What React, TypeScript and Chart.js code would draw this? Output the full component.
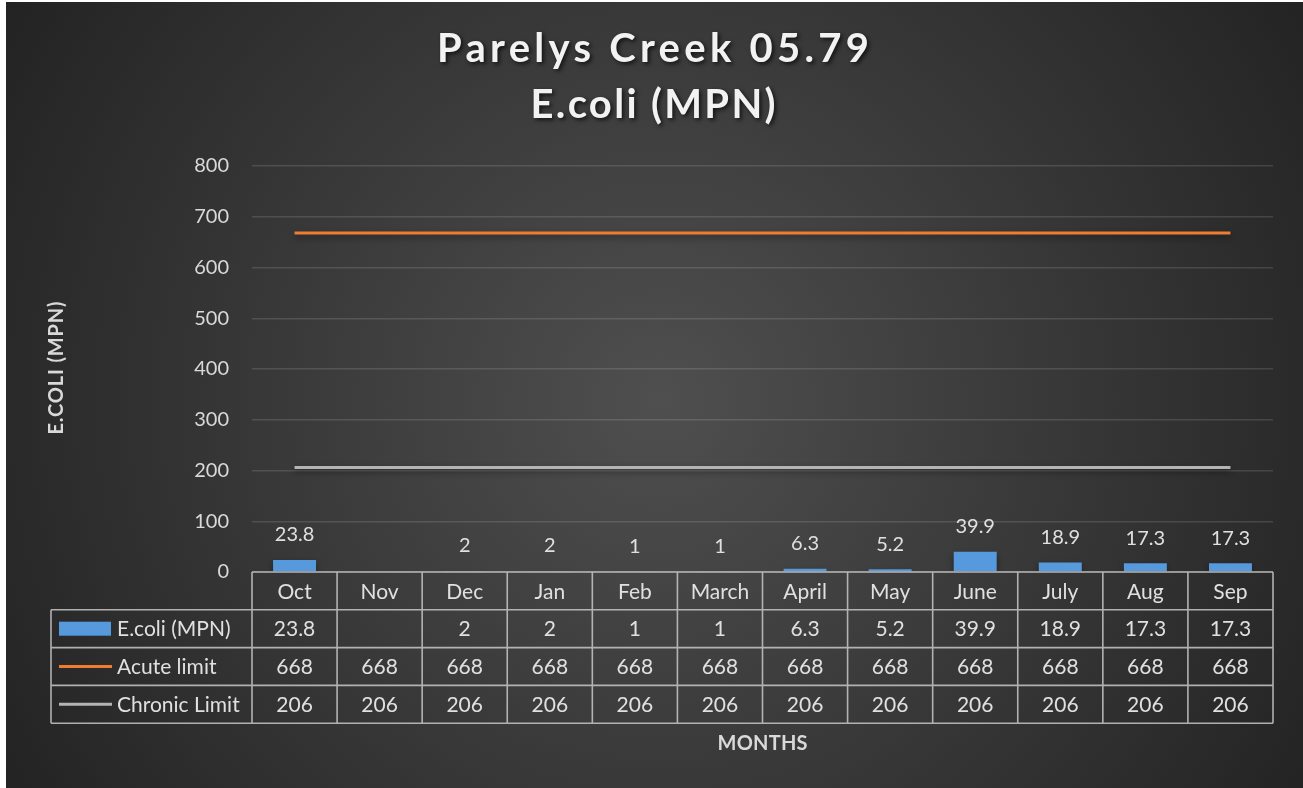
import React, { useEffect, useRef } from 'react';
import { Chart, registerables } from 'chart.js';

Chart.register(...registerables);

const W = 1303;
const H = 788;
const FONT = 'Lato, "Open Sans", sans-serif';

const titleLines = ['Parelys Creek 05.79', 'E.coli (MPN)'];
const months = ['Oct', 'Nov', 'Dec', 'Jan', 'Feb', 'March', 'April', 'May', 'June', 'July', 'Aug', 'Sep'];
const ecoliValues: (number | null)[] = [23.8, null, 2, 2, 1, 1, 6.3, 5.2, 39.9, 18.9, 17.3, 17.3];
const acuteLimit = [668, 668, 668, 668, 668, 668, 668, 668, 668, 668, 668, 668];
const chronicLimit = [206, 206, 206, 206, 206, 206, 206, 206, 206, 206, 206, 206];
const seriesNames = ['E.coli (MPN)', 'Acute limit', 'Chronic Limit'];
const yMin = 0;
const yMax = 800;
const yStep = 100;
const xAxisTitle = 'MONTHS';
const yAxisTitle = 'E.COLI (MPN)';

const BAR_COLOR = '#5699dc';
const ACUTE_COLOR = '#ed7d31';
const CHRONIC_COLOR = '#b4b4b4';
const TEXT_COLOR = '#e0e0e0';
const TABLE_LINE = 'rgba(200,200,200,0.85)';

const fmt = (v: number | null) => (v == null ? '' : String(v));

function drawSpaced(ctx: CanvasRenderingContext2D, text: string, cx: number, y: number, targetW: number) {
  (ctx as any).letterSpacing = '0px';
  const w = ctx.measureText(text).width;
  const n = text.length;
  const ls = Math.max(0, (targetW - w) / (n - 1));
  (ctx as any).letterSpacing = ls + 'px';
  ctx.textAlign = 'left';
  ctx.fillText(text, cx - targetW / 2, y);
  (ctx as any).letterSpacing = '0px';
}

const decoPlugin = {
  id: 'deco',
  beforeDraw(chart: any) {
    const ctx = chart.ctx as CanvasRenderingContext2D;
    ctx.save();
    ctx.fillStyle = '#ffffff';
    ctx.fillRect(0, 0, W, H);
    const g = ctx.createRadialGradient(660, 400, 0, 660, 400, 780);
    g.addColorStop(0, '#4f4f4f');
    g.addColorStop(1, '#222222');
    ctx.fillStyle = g;
    ctx.fillRect(6, 2, W - 6, H - 2);
    ctx.restore();
  },
  beforeDatasetDraw(chart: any) {
    const ctx = chart.ctx as CanvasRenderingContext2D;
    ctx.save();
    ctx.shadowColor = 'rgba(0,0,0,0.45)';
    ctx.shadowBlur = 6;
    ctx.shadowOffsetY = 3;
  },
  afterDatasetDraw(chart: any) {
    chart.ctx.restore();
  },
  afterDraw(chart: any) {
    const ctx = chart.ctx as CanvasRenderingContext2D;
    const area = chart.chartArea;
    const xs = chart.scales.x;
    const n = months.length;
    const colW = (area.right - area.left) / n;

    ctx.save();
    // Titles
    ctx.fillStyle = '#f2f2f2';
    ctx.shadowColor = 'rgba(0,0,0,0.7)';
    ctx.shadowBlur = 4;
    ctx.shadowOffsetX = 2;
    ctx.shadowOffsetY = 2;
    ctx.textBaseline = 'alphabetic';
    ctx.font = `bold 40px ${FONT}`;
    drawSpaced(ctx, titleLines[0], 653, 62, 432);
    drawSpaced(ctx, titleLines[1], 653, 118, 245);
    ctx.restore();

    // Data labels above bars
    ctx.save();
    ctx.fillStyle = TEXT_COLOR;
    ctx.font = `20px ${FONT}`;
    ctx.textAlign = 'center';
    ctx.textBaseline = 'middle';
    const meta = chart.getDatasetMeta(0);
    meta.data.forEach((el: any, i: number) => {
      const v = ecoliValues[i];
      if (v == null) return;
      ctx.fillText(fmt(v), el.x, el.y - 25);
    });
    ctx.restore();

    // Data table
    const top = area.bottom;
    const rowH = 37.8;
    const legendLeft = 51;
    const rows = [top, top + rowH, top + 2 * rowH, top + 3 * rowH, top + 4 * rowH];
    ctx.save();
    ctx.strokeStyle = TABLE_LINE;
    ctx.lineWidth = 1.6;
    ctx.beginPath();
    ctx.moveTo(area.left, rows[0]);
    ctx.lineTo(area.right, rows[0]);
    for (let r = 1; r < rows.length; r++) {
      ctx.moveTo(legendLeft, rows[r]);
      ctx.lineTo(area.right, rows[r]);
    }
    ctx.moveTo(legendLeft, rows[1]);
    ctx.lineTo(legendLeft, rows[4]);
    for (let k = 0; k <= n; k++) {
      const x = area.left + k * colW;
      ctx.moveTo(x, rows[0]);
      ctx.lineTo(x, rows[4]);
    }
    ctx.stroke();

    ctx.fillStyle = TEXT_COLOR;
    ctx.font = `21px ${FONT}`;
    ctx.textAlign = 'center';
    ctx.textBaseline = 'middle';
    const tableRows = [ecoliValues, acuteLimit, chronicLimit];
    months.forEach((m, i) => {
      const cx = xs.getPixelForValue(i);
      ctx.fillText(m, cx, (rows[0] + rows[1]) / 2 + 1);
      tableRows.forEach((vals, r) => {
        ctx.fillText(fmt(vals[i] as any), cx, (rows[r + 1] + rows[r + 2]) / 2 + 1);
      });
    });

    // legend keys
    ctx.textAlign = 'left';
    seriesNames.forEach((name, r) => {
      const cy = (rows[r + 1] + rows[r + 2]) / 2;
      if (r === 0) {
        ctx.fillStyle = BAR_COLOR;
        ctx.fillRect(59, cy - 7, 52, 14);
      } else {
        ctx.strokeStyle = r === 1 ? ACUTE_COLOR : CHRONIC_COLOR;
        ctx.lineWidth = 3;
        ctx.beginPath();
        ctx.moveTo(59, cy);
        ctx.lineTo(112, cy);
        ctx.stroke();
      }
      ctx.fillStyle = TEXT_COLOR;
      ctx.fillText(name, 117, cy + 1);
    });

    // Axis titles
    ctx.font = `bold 20px ${FONT}`;
    ctx.fillStyle = '#d9d9d9';
    ctx.textBaseline = 'middle';
    drawSpaced(ctx, xAxisTitle, (area.left + area.right) / 2, 744, 90);
    ctx.translate(57, 368);
    ctx.rotate(-Math.PI / 2);
    drawSpaced(ctx, yAxisTitle, 0, 0, 133);
    ctx.restore();
  },
};

export default function App() {
  const ref = useRef<HTMLCanvasElement>(null);
  useEffect(() => {
    if (!ref.current) return;
    const chart = new Chart(ref.current, {
      type: 'bar',
      data: {
        labels: months,
        datasets: [
          {
            type: 'bar',
            label: seriesNames[0],
            data: ecoliValues,
            backgroundColor: BAR_COLOR,
            barPercentage: 0.505,
            categoryPercentage: 1,
            order: 2,
          },
          {
            type: 'line',
            label: seriesNames[1],
            data: acuteLimit,
            borderColor: ACUTE_COLOR,
            borderWidth: 3,
            pointRadius: 0,
            fill: false,
            order: 1,
          },
          {
            type: 'line',
            label: seriesNames[2],
            data: chronicLimit,
            borderColor: CHRONIC_COLOR,
            borderWidth: 3,
            pointRadius: 0,
            fill: false,
            order: 1,
          },
        ] as any,
      },
      options: {
        responsive: false,
        animation: false,
        devicePixelRatio: 1,
        layout: { padding: { left: 0, top: 166, right: 30, bottom: 216 } },
        plugins: {
          legend: { display: false },
          title: { display: false },
          tooltip: { enabled: false },
        },
        scales: {
          x: { display: false, offset: true },
          y: {
            min: yMin,
            max: yMax,
            ticks: {
              stepSize: yStep,
              color: '#d9d9d9',
              font: { family: FONT, size: 20 },
              padding: 23,
            },
            grid: {
              color: 'rgba(255,255,255,0.13)',
              lineWidth: 1.5,
              drawTicks: false,
            },
            border: { display: false },
            afterFit: (scale: any) => {
              scale.width = 252;
            },
          },
        },
      },
      plugins: [decoPlugin],
    });
    return () => chart.destroy();
  }, []);
  return (
    <div style={{ position: 'fixed', left: 0, top: 0, width: W, height: H }}>
      <canvas ref={ref} width={W} height={H} />
    </div>
  );
}
